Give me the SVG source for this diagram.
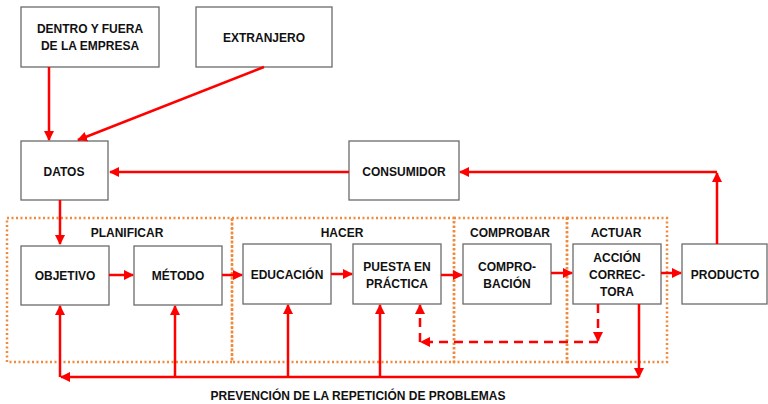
<svg xmlns="http://www.w3.org/2000/svg" width="768" height="404" viewBox="0 0 768 404">
<defs>
<marker id="ah" viewBox="0 0 10 10" refX="9" refY="5" markerWidth="4" markerHeight="4" orient="auto" markerUnits="strokeWidth">
<path d="M0,0 L10,5 L0,10 z" fill="#FF0000"/>
</marker>
<style>
.box{fill:#fff;stroke:#6b6b6b;stroke-width:1.3}
.t{font-family:"Liberation Sans",Arial,sans-serif;font-weight:bold;font-size:12px;fill:#111;text-anchor:middle}
.c{fill:none;stroke:#FF0000;stroke-width:2.5}
.a{marker-end:url(#ah)}
.d{stroke-dasharray:9,6}
.reg{fill:none;stroke:#F08A3C;stroke-width:2.5;stroke-dasharray:2,2.5}
</style>
</defs>
<g id="regions">
<rect class="reg" x="7" y="218" width="225" height="144"/>
<rect class="reg" x="232" y="218" width="222" height="144"/>
<rect class="reg" x="454" y="218" width="113" height="144"/>
<rect class="reg" x="567" y="218" width="100" height="144"/>
<text class="t" x="127" y="237">PLANIFICAR</text>
<text class="t" x="342" y="237">HACER</text>
<text class="t" x="510" y="237">COMPROBAR</text>
<text class="t" x="616" y="237">ACTUAR</text>
</g>
<g id="dentro"><rect class="box" x="21" y="7" width="138" height="60"/><text class="t" x="90" y="33">DENTRO Y FUERA</text><text class="t" x="90" y="50">DE LA EMPRESA</text></g>
<g id="extranjero"><rect class="box" x="196" y="7" width="136" height="60"/><text class="t" x="264" y="42">EXTRANJERO</text></g>
<g id="datos"><rect class="box" x="21" y="141" width="87" height="59"/><text class="t" x="64" y="176">DATOS</text></g>
<g id="consumidor"><rect class="box" x="349" y="141" width="110" height="59"/><text class="t" x="404" y="176">CONSUMIDOR</text></g>
<g id="objetivo"><rect class="box" x="21" y="246" width="88" height="59"/><text class="t" x="65" y="280">OBJETIVO</text></g>
<g id="metodo"><rect class="box" x="134" y="246" width="88" height="59"/><text class="t" x="178" y="280">MÉTODO</text></g>
<g id="educacion"><rect class="box" x="243" y="244" width="88" height="60"/><text class="t" x="287" y="279">EDUCACIÓN</text></g>
<g id="puesta"><rect class="box" x="353" y="244" width="88" height="60"/><text class="t" x="397" y="271">PUESTA EN</text><text class="t" x="397" y="288">PRÁCTICA</text></g>
<g id="comprobacion"><rect class="box" x="463" y="244" width="88" height="60"/><text class="t" x="507" y="271">COMPRO-</text><text class="t" x="507" y="288">BACIÓN</text></g>
<g id="accion"><rect class="box" x="573" y="244" width="88" height="60"/><text class="t" x="617" y="262">ACCIÓN</text><text class="t" x="617" y="279">CORREC-</text><text class="t" x="617" y="296">TORA</text></g>
<g id="producto"><rect class="box" x="682" y="244" width="85" height="60"/><text class="t" x="725" y="279">PRODUCTO</text></g>
<g id="connectors">
<path class="c a" d="M49,67 V140"/>
<path class="c a" d="M264,67 L78,140"/>
<path class="c a" d="M349,172 H110"/>
<path class="c a" d="M60,200 V244"/>
<path class="c a" d="M109,275 H133"/>
<path class="c a" d="M222,275 H242"/>
<path class="c a" d="M331,274 H352"/>
<path class="c a" d="M441,275 H462"/>
<path class="c a" d="M551,273 H572"/>
<path class="c a" d="M661,273 H681"/>
<path class="c a" d="M717,244 V173"/>
<path class="c a" d="M717,172 H460"/>
<path class="c a" d="M639,304 V377"/>
<path class="c a" d="M639,377 H61"/>
<path class="c a" d="M60,377 V306"/>
<path class="c a" d="M175,377 V306"/>
<path class="c a" d="M288,377 V305"/>
<path class="c a" d="M380,377 V305"/>
<path class="c d a" d="M598,304 V341"/>
<path class="c d a" d="M598,342 H421"/>
<path class="c d a" d="M420,342 V305"/>
</g>
<text class="t" x="358" y="400">PREVENCIÓN DE LA REPETICIÓN DE PROBLEMAS</text>
</svg>
